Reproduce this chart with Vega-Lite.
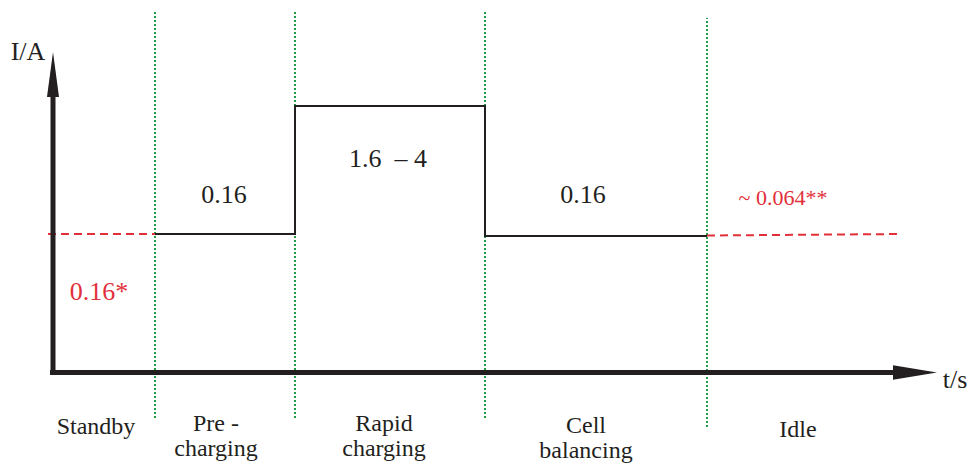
{
  "$schema": "https://vega.github.io/schema/vega-lite/v6.json",
  "width": 971,
  "height": 464,
  "autosize": {"type": "fit", "contains": "padding"},
  "padding": 0,
  "background": "white",
  "config": {"view": {"stroke": null}},
  "datasets": {
    "phases": [
      {"t": 102, "top": 362.5, "bottom": -45.5},
      {"t": 242, "top": 362.5, "bottom": -45.5},
      {"t": 432, "top": 362.5, "bottom": -45.5},
      {"t": 654, "top": 354.5, "bottom": -54.5}
    ],
    "axes": [
      {"axis": "I", "x": 0, "x2": 0, "y": -2.5, "y2": 276},
      {"axis": "t", "x": -3, "x2": 842, "y": 0, "y2": 0}
    ],
    "arrows": [
      {"axis": "I", "x": 0, "y": 298},
      {"axis": "t", "x": 862, "y": 0}
    ],
    "current": [
      {"order": 1, "t": 102, "i": 138.5},
      {"order": 2, "t": 242, "i": 138.5},
      {"order": 3, "t": 242, "i": 266.5},
      {"order": 4, "t": 432, "i": 266.5},
      {"order": 5, "t": 432, "i": 136.5},
      {"order": 6, "t": 654, "i": 136.5}
    ],
    "dashed": [
      {"seg": "standby", "order": 1, "t": -5, "i": 138.5},
      {"seg": "standby", "order": 2, "t": 102, "i": 138.5},
      {"seg": "idle", "order": 1, "t": 654, "i": 137},
      {"seg": "idle", "order": 2, "t": 849, "i": 138.5}
    ],
    "labels": [
      {"kind": "axis", "text": "I/A", "x": -25, "y": 312.5},
      {"kind": "axis", "text": "t/s", "x": 902, "y": -15.5},
      {"kind": "phase", "text": "Standby", "x": 43, "y": -61.5},
      {"kind": "phase", "text": "Pre -\ncharging", "x": 163, "y": -58.5},
      {"kind": "phase", "text": "Rapid\ncharging", "x": 331, "y": -58.5},
      {"kind": "phase", "text": "Cell\nbalancing", "x": 533, "y": -60},
      {"kind": "phase", "text": "Idle", "x": 745, "y": -64},
      {"kind": "value", "text": "0.16", "x": 171, "y": 169.5},
      {"kind": "value", "text": "1.6\u00a0\u00a0– 4", "x": 335, "y": 205.5},
      {"kind": "value", "text": "0.16", "x": 530, "y": 169.5},
      {"kind": "note", "text": "0.16*", "x": 46, "y": 72.5},
      {"kind": "estimate", "text": "~ 0.064**", "x": 730, "y": 167.5}
    ]
  },
  "layer": [
    {
      "data": {"name": "phases"},
      "mark": {"type": "rule", "color": "#1e9e48", "strokeWidth": 2, "strokeDash": [2, 2]},
      "encoding": {
        "x": {"field": "t", "type": "quantitative", "scale": {"domain": [-53, 918], "nice": false, "zero": false}, "axis": null},
        "y": {"field": "bottom", "type": "quantitative", "scale": {"domain": [-91.5, 372.5], "nice": false, "zero": false}, "axis": null},
        "y2": {"field": "top"}
      }
    },
    {
      "data": {"name": "dashed"},
      "mark": {"type": "line", "color": "#e2303a", "strokeWidth": 2, "strokeDash": [8, 5]},
      "encoding": {
        "x": {"field": "t", "type": "quantitative", "scale": {"domain": [-53, 918], "nice": false, "zero": false}, "axis": null},
        "y": {"field": "i", "type": "quantitative", "scale": {"domain": [-91.5, 372.5], "nice": false, "zero": false}, "axis": null},
        "detail": {"field": "seg", "type": "nominal"},
        "order": {"field": "order", "type": "quantitative"}
      }
    },
    {
      "data": {"name": "current"},
      "mark": {"type": "line", "color": "#231f20", "strokeWidth": 2},
      "encoding": {
        "x": {"field": "t", "type": "quantitative", "scale": {"domain": [-53, 918], "nice": false, "zero": false}, "axis": null},
        "y": {"field": "i", "type": "quantitative", "scale": {"domain": [-91.5, 372.5], "nice": false, "zero": false}, "axis": null},
        "order": {"field": "order", "type": "quantitative"}
      }
    },
    {
      "data": {"name": "axes"},
      "mark": {"type": "rule", "color": "#231f20", "strokeWidth": 5},
      "encoding": {
        "x": {"field": "x", "type": "quantitative", "scale": {"domain": [-53, 918], "nice": false, "zero": false}, "axis": null},
        "x2": {"field": "x2"},
        "y": {"field": "y", "type": "quantitative", "scale": {"domain": [-91.5, 372.5], "nice": false, "zero": false}, "axis": null},
        "y2": {"field": "y2"}
      }
    },
    {
      "data": {"name": "arrows"},
      "transform": [{"filter": "datum.axis === 'I'"}],
      "mark": {"type": "point", "filled": true, "color": "#231f20", "opacity": 1, "strokeWidth": 0, "size": 2025, "shape": "M0,-1L0.267,1L-0.267,1Z"},
      "encoding": {
        "x": {"field": "x", "type": "quantitative", "scale": {"domain": [-53, 918], "nice": false, "zero": false}, "axis": null},
        "y": {"field": "y", "type": "quantitative", "scale": {"domain": [-91.5, 372.5], "nice": false, "zero": false}, "axis": null}
      }
    },
    {
      "data": {"name": "arrows"},
      "transform": [{"filter": "datum.axis === 't'"}],
      "mark": {"type": "point", "filled": true, "color": "#231f20", "opacity": 1, "strokeWidth": 0, "size": 1936, "shape": "M1,0L-1,0.33L-1,-0.33Z"},
      "encoding": {
        "x": {"field": "x", "type": "quantitative", "scale": {"domain": [-53, 918], "nice": false, "zero": false}, "axis": null},
        "y": {"field": "y", "type": "quantitative", "scale": {"domain": [-91.5, 372.5], "nice": false, "zero": false}, "axis": null}
      }
    },
    {
      "data": {"name": "labels"},
      "transform": [{"filter": "datum.kind === 'axis' || datum.kind === 'value'"}],
      "mark": {"type": "text", "font": "Liberation Serif, Times New Roman, serif", "fontSize": 26, "color": "#231f20", "align": "center", "baseline": "alphabetic"},
      "encoding": {
        "x": {"field": "x", "type": "quantitative", "scale": {"domain": [-53, 918], "nice": false, "zero": false}, "axis": null},
        "y": {"field": "y", "type": "quantitative", "scale": {"domain": [-91.5, 372.5], "nice": false, "zero": false}, "axis": null},
        "text": {"field": "text", "type": "nominal"}
      }
    },
    {
      "data": {"name": "labels"},
      "transform": [{"filter": "datum.kind === 'phase'"}],
      "mark": {"type": "text", "font": "Liberation Serif, Times New Roman, serif", "fontSize": 24, "lineHeight": 25, "lineBreak": "\n", "color": "#231f20", "align": "center", "baseline": "alphabetic"},
      "encoding": {
        "x": {"field": "x", "type": "quantitative", "scale": {"domain": [-53, 918], "nice": false, "zero": false}, "axis": null},
        "y": {"field": "y", "type": "quantitative", "scale": {"domain": [-91.5, 372.5], "nice": false, "zero": false}, "axis": null},
        "text": {"field": "text", "type": "nominal"}
      }
    },
    {
      "data": {"name": "labels"},
      "transform": [{"filter": "datum.kind === 'note'"}],
      "mark": {"type": "text", "font": "Liberation Serif, Times New Roman, serif", "fontSize": 26, "color": "#e2303a", "align": "center", "baseline": "alphabetic"},
      "encoding": {
        "x": {"field": "x", "type": "quantitative", "scale": {"domain": [-53, 918], "nice": false, "zero": false}, "axis": null},
        "y": {"field": "y", "type": "quantitative", "scale": {"domain": [-91.5, 372.5], "nice": false, "zero": false}, "axis": null},
        "text": {"field": "text", "type": "nominal"}
      }
    },
    {
      "data": {"name": "labels"},
      "transform": [{"filter": "datum.kind === 'estimate'"}],
      "mark": {"type": "text", "font": "Liberation Serif, Times New Roman, serif", "fontSize": 22, "color": "#e2303a", "align": "center", "baseline": "alphabetic"},
      "encoding": {
        "x": {"field": "x", "type": "quantitative", "scale": {"domain": [-53, 918], "nice": false, "zero": false}, "axis": null},
        "y": {"field": "y", "type": "quantitative", "scale": {"domain": [-91.5, 372.5], "nice": false, "zero": false}, "axis": null},
        "text": {"field": "text", "type": "nominal"}
      }
    }
  ]
}
